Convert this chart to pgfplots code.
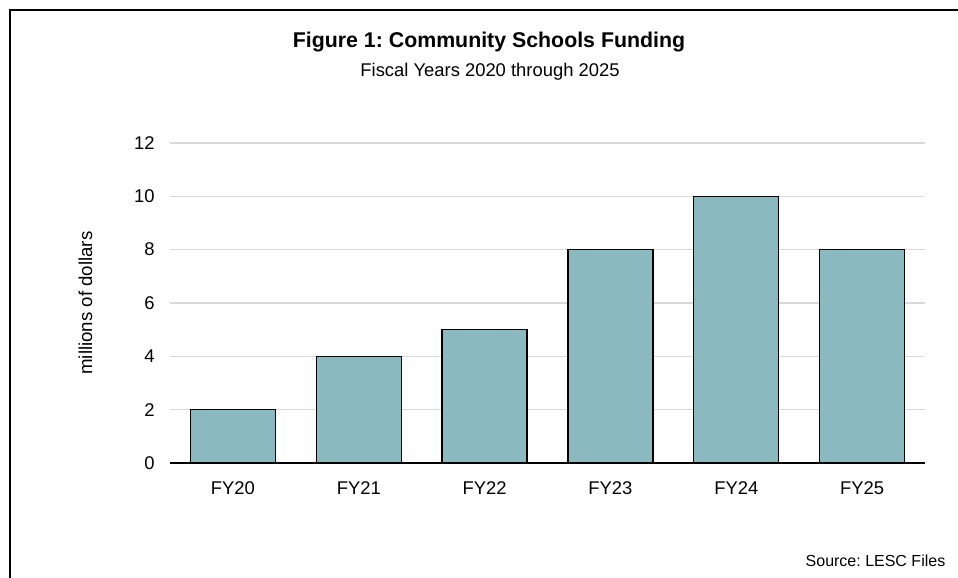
\documentclass[border=0pt]{standalone}
\usepackage{fontspec}
\setmainfont{Liberation Sans}
\usepackage{pgfplots}
\pgfplotsset{compat=1.18}
\definecolor{barfill}{RGB}{138,186,192}
\definecolor{gridgray}{RGB}{217,217,217}

\begin{document}
\frenchspacing
\begin{tikzpicture}[x=0.75pt, y=0.75pt]
    % canvas in pixel units, origin bottom left
    \useasboundingbox (0,0) rectangle (958,578);
    \draw[line width=1.5pt] (10,0) -- (10,568) -- (958,568);

    \node[anchor=base, font=\fontsize{16}{19}\selectfont\bfseries] at (489,530) {Figure 1: Community Schools Funding};
    \node[anchor=base, font=\fontsize{13.8}{16}\selectfont] at (490,501) {Fiscal Years 2020 through 2025};
    \node[anchor=base east, font=\fontsize{12}{14}\selectfont] at (950,11) {Source: LESC Files};

    \begin{axis}[
        at={(127.5pt,86.25pt)},
        anchor=south west,
        scale only axis,
        width=566.25pt,
        height=240pt,
        xmin=-0.5, xmax=5.5,
        ymin=0, ymax=12,
        enlargelimits=false,
        axis lines*=left,
        x axis line style={black, line width=1pt},
        y axis line style={draw=none},
        tick style={draw=none},
        xtick={0,...,5},
        xticklabels={FY20, FY21, FY22, FY23, FY24, FY25},
        ytick={0,2,...,12},
        ymajorgrids,
        grid style={gridgray, line width=1pt},
        ticklabel style={font=\fontsize{13.8}{16}\selectfont},
        /pgf/number format/assume math mode=true,
        yticklabel style={xshift=-8pt},
        xticklabel style={yshift=-6pt},
        ylabel={millions of dollars},
        ylabel style={font=\fontsize{14}{16}\selectfont, at={(axis description cs:-0.112,0.5)}, anchor=center},
        ybar,
        bar width=63.75pt,
    ]
    \addplot[fill=barfill, draw=black, line width=0.9pt] coordinates {
        (0,2) (1,4) (2,5) (3,8) (4,10) (5,8)
    };
    \end{axis}
\end{tikzpicture}
\end{document}
